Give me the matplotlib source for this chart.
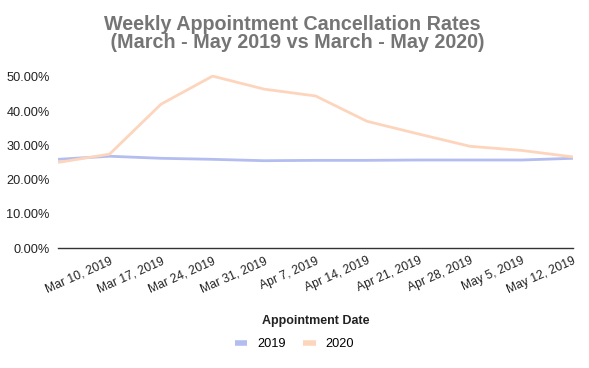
import matplotlib

matplotlib.use("Agg")
import matplotlib.pyplot as plt  # noqa: E402
from matplotlib.lines import Line2D  # noqa: E402
from matplotlib.ticker import FuncFormatter  # noqa: E402

plt.rcParams["font.family"] = ["Liberation Sans", "DejaVu Sans"]

DATES = ["Mar 3, 2019", "Mar 10, 2019", "Mar 17, 2019", "Mar 24, 2019", "Mar 31, 2019",
         "Apr 7, 2019", "Apr 14, 2019", "Apr 21, 2019", "Apr 28, 2019", "May 5, 2019",
         "May 12, 2019"]
RATE_2019 = [25.9, 26.8, 26.2, 25.9, 25.5, 25.6, 25.6, 25.7, 25.7, 25.7, 26.2]
RATE_2020 = [25.0, 27.4, 42.0, 50.2, 46.4, 44.4, 37.0, 33.3, 29.7, 28.5, 26.6]

BLUE = "#b3bdf0"
PEACH = "#fdd5bd"


def _fmt_pct(v, _pos):
    return f"{v:.2f}%"


fig = plt.figure(figsize=(5.89, 3.68), dpi=100)
ax = fig.add_axes([0.0985, 0.326, 0.8745, 0.47])

x = list(range(len(DATES)))
ax.plot(x, RATE_2019, color=BLUE, linewidth=2, solid_capstyle="butt")
ax.plot(x, RATE_2020, color=PEACH, linewidth=2, solid_capstyle="butt")

ax.set_xlim(0, len(DATES) - 1)
ax.set_ylim(0, 50.5)
ax.set_yticks([0, 10, 20, 30, 40, 50])
ax.yaxis.set_major_formatter(FuncFormatter(_fmt_pct))
ax.tick_params(axis="y", length=0, labelsize=9.2, colors="#222222", pad=6)
ax.tick_params(axis="x", length=0, labelsize=8.7, colors="#222222", pad=5)

ax.set_xticks(x[1:])
ax.set_xticklabels(DATES[1:], rotation=24, ha="right", rotation_mode="anchor")

for side in ("top", "right", "left"):
    ax.spines[side].set_visible(False)
ax.spines["bottom"].set_color("#333333")
ax.spines["bottom"].set_linewidth(1.0)

ax.set_xlabel("Appointment Date", fontsize=9, fontweight="bold", color="#222222", labelpad=14)

fig.text(0.5008, 0.908, "Weekly Appointment Cancellation Rates \n "
         "(March - May 2019 vs March - May 2020)",
         ha="center", va="center", fontsize=14.2, fontweight="bold", color="#757575",
         linespacing=0.95)

handles = [Line2D([], [], color=BLUE, linewidth=4, solid_capstyle="butt"),
           Line2D([], [], color=PEACH, linewidth=4, solid_capstyle="butt")]
fig.legend(handles, ["2019", "2020"], loc="center", bbox_to_anchor=(0.5, 0.064), ncol=2,
           frameon=False, fontsize=9.2, handlelength=0.95, handletextpad=0.75,
           columnspacing=1.4)

fig.savefig("out.png", dpi=100)
